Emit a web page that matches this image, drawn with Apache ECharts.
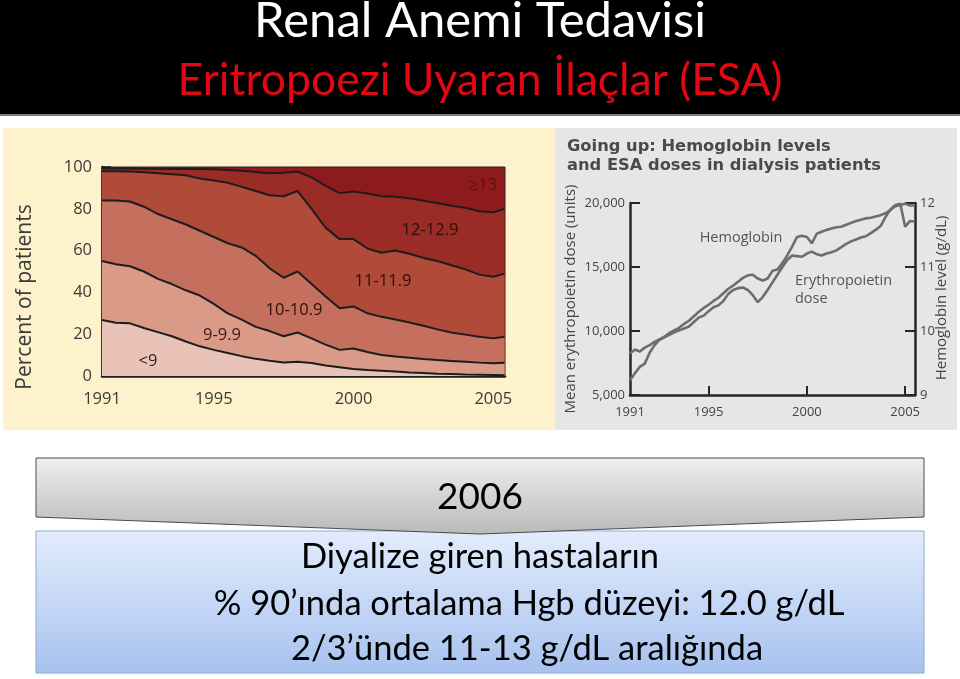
<!DOCTYPE html>
<html>
<head>
<meta charset="utf-8">
<script src="https://cdn.jsdelivr.net/npm/echarts@6/dist/echarts.min.js"></script>
<style>html,body{margin:0;padding:0;background:#fff}#c{width:960px;height:679px}</style>
</head>
<body>
<div id="c"></div>
<script>
// ---------- Texts ----------
const headerTitle = 'Renal Anemi Tedavisi';
const headerSubtitle = 'Eritropoezi Uyaran İlaçlar (ESA)';
const boxYear = '2006';
const boxLines = ['Diyalize giren hastaların', '% 90’ında ortalama Hgb düzeyi: 12.0 g/dL', '2/3’ünde 11-13 g/dL aralığında'];

// ---------- Left chart: percent of patients by Hb band (cumulative upper edges) ----------
const bandYears = [1991,1991.5,1992,1992.5,1993,1993.5,1994,1994.5,1995,1995.5,1996,1996.5,1997,1997.5,1998,1998.5,1999,1999.5,2000,2000.5,2001,2001.5,2002,2002.5,2003,2003.5,2004,2004.5,2005,2005.4];
const edge12 = [99.3,99.3,99.3,99.2,99.2,99.1,99.1,99,98.9,98.6,98.2,97.6,97,97.3,97.8,95,91,87.5,88.3,87.3,86,85.8,85,83.8,82.8,81.5,80.5,78.8,78.3,80];
const edge11 = [98,98,97.8,97.5,97,96.5,96,94.5,93.5,92.5,90.5,88.5,86.5,86,88.5,80,71,65.5,65.5,61,59,60,58.5,56.5,55,53,51,48.5,47.5,49];
const edge10 = [84,84,83.5,81,77.5,75,72.5,69.5,66.5,63.5,61.5,57.5,51.5,47,50,44,38,32.4,33.3,30,28.3,27,25.6,24,22.3,20.8,19.8,18.8,18,18.8];
const edge9 = [55,53.5,52.5,50,46.5,44,41,38.5,34.5,30,27,23.5,21.5,19,20.8,18,15,12.5,13.2,11.5,10,9.3,8.7,8.1,7.6,7.2,6.8,6.4,6.1,6.3];
const edgeLt9 = [26.8,25.5,25.2,23,21,19,16.5,14.2,12.5,11,9.5,8.2,7.3,6.5,6.8,6.2,5,4.2,3.4,2.9,2.5,2.1,1.7,1.4,1.1,0.9,0.7,0.6,0.5,0.4];
const bandNames = ['≥13', '12-12.9', '11-11.9', '10-10.9', '9-9.9', '<9'];
const pctTicks = [0, 20, 40, 60, 80, 100];
const yearLabels = [1991, 1995, 2000, 2005];
const yearTickMarks = [1995, 2000, 2005];

// ---------- Right chart: Hb level and ESA dose ----------
const trendYears = [1991,1991.25,1991.5,1991.75,1992,1992.25,1992.5,1992.75,1993,1993.25,1993.5,1993.75,1994,1994.25,1994.5,1994.75,1995,1995.25,1995.5,1995.75,1996,1996.25,1996.5,1996.75,1997,1997.25,1997.5,1997.75,1998,1998.25,1998.5,1998.75,1999,1999.25,1999.5,1999.75,2000,2000.25,2000.5,2000.75,2001,2001.25,2001.5,2001.75,2002,2002.25,2002.5,2002.75,2003,2003.25,2003.5,2003.75,2004,2004.25,2004.5,2004.75,2005,2005.25,2005.5];
const hbLevel = [9.65,9.71,9.68,9.74,9.78,9.83,9.87,9.91,9.97,10.01,10.05,10.11,10.16,10.23,10.30,10.36,10.41,10.47,10.52,10.59,10.66,10.71,10.77,10.83,10.87,10.88,10.82,10.79,10.82,10.94,10.96,11.06,11.18,11.32,11.47,11.49,11.47,11.37,11.52,11.55,11.58,11.60,11.62,11.63,11.66,11.69,11.72,11.74,11.76,11.77,11.79,11.81,11.84,11.89,11.95,11.97,11.99,11.96,11.96];
const epoDose = [6150,6700,7200,7450,8300,8900,9300,9500,9700,9900,10050,10200,10350,10700,11050,11200,11550,11850,12000,12350,12900,13200,13350,13400,13200,12800,12250,12650,13200,13800,14400,15000,15550,15900,15850,15800,16050,16200,16000,15900,16050,16150,16300,16550,16800,17000,17150,17300,17400,17650,17900,18200,18900,19500,19850,19950,18150,18600,18550];
const doseTicks = [5000, 10000, 15000, 20000];
const hbTicks = [9, 10, 11, 12];

// ---------- Build ----------
const zip = (xs, ys) => xs.map((x, i) => [x, ys[i]]);
const bandColors = ['#8d1b1e', '#9a2b25', '#b04a39', '#c5705e', '#d99a88', '#e9c3b7'];
const edges = [edge12, edge11, edge10, edge9, edgeLt9];

const CAL = 'Lato, "Open Sans", sans-serif';
const FRU = '"Open Sans", "Noto Sans", sans-serif';

function txt(text, x, y, size, color, opts) {
  opts = opts || {};
  return {
    type: 'text', x: x, y: y, z: 100, rotation: opts.rotation || 0,
    style: {
      text: text, fill: color, fontSize: size, fontFamily: opts.family || FRU,
      fontWeight: opts.weight || 'normal',
      align: opts.align || 'center', verticalAlign: 'middle',
      textAlign: opts.align || 'center', textVerticalAlign: 'middle'
    }
  };
}

const graphics = [
  { type: 'rect', z: -10, shape: { x: 0, y: 0, width: 960, height: 114 }, style: { fill: '#000' } },
  { type: 'rect', z: -10, shape: { x: 0, y: 114, width: 960, height: 2 }, style: { fill: '#7c7c7c' } },
  { type: 'rect', z: -10, shape: { x: 3, y: 128, width: 552, height: 302 }, style: { fill: '#fdf2cb' } },
  { type: 'rect', z: -10, shape: { x: 555, y: 128, width: 402, height: 302 }, style: { fill: '#e6e6e8' } },
  txt(headerTitle, 480, 21, 49, '#ffffff', { family: CAL }),
  txt(headerSubtitle, 480, 81, 44.5, '#e30613', { family: CAL }),
  // left chart annotations
  txt('Percent of patients', 25, 297, 21, '#3b3b3b', { rotation: Math.PI / 2 }),
  txt(bandNames[0], 483, 185, 16.5, '#5e1212'),
  txt(bandNames[1], 430, 230, 16.5, '#2e0f0b'),
  txt(bandNames[2], 383, 281, 16.5, '#2e0f0b'),
  txt(bandNames[3], 294, 310, 16.5, '#2e0f0b'),
  txt(bandNames[4], 222, 335, 16.5, '#3a1a14'),
  txt(bandNames[5], 148, 361, 16.5, '#3a1a14'),
  // right chart annotations
  txt('Going up: Hemoglobin levels', 567, 147, 16.3, '#4a4a4a', { align: 'left', weight: 'bold', family: '"DejaVu Sans", sans-serif' }),
  txt('and ESA doses in dialysis patients', 567, 166, 16.3, '#4a4a4a', { align: 'left', weight: 'bold', family: '"DejaVu Sans", sans-serif' }),
  txt('Mean erythropoietin dose (units)', 571, 299, 15, '#444', { rotation: Math.PI / 2 }),
  txt('Hemoglobin level (g/dL)', 942, 298, 15, '#444', { rotation: Math.PI / 2 }),
  txt('Hemoglobin', 741, 238, 14.5, '#555'),
  txt('Erythropoietin', 795, 281, 14.5, '#555', { align: 'left' }),
  txt('dose', 795, 299, 14.5, '#555', { align: 'left' }),
  // bottom callout
  { type: 'rect', z: 50, shape: { x: 36, y: 531, width: 888, height: 142 },
    style: { fill: { type: 'linear', x: 0, y: 0, x2: 0, y2: 1, colorStops: [{ offset: 0, color: '#e2ecfc' }, { offset: 1, color: '#a7c2ef' }] }, stroke: '#8eaad8', lineWidth: 1 } },
  { type: 'polygon', z: 51, shape: { points: [[36, 458], [924, 458], [924, 517], [480, 534], [36, 517]] },
    style: { fill: { type: 'linear', x: 0, y: 0, x2: 0, y2: 1, colorStops: [{ offset: 0, color: '#efefef' }, { offset: 1, color: '#b9b9b9' }] }, stroke: '#4a4a4a', lineWidth: 1 } },
  txt(boxYear, 480, 497, 37, '#000', { family: CAL }),
  txt(boxLines[0], 480, 557, 34.5, '#000', { family: CAL }),
  txt(boxLines[1], 529, 604, 34.5, '#000', { family: CAL }),
  txt(boxLines[2], 527, 649, 34.5, '#000', { family: CAL })
];

const bandSeries = edges.map((edge, i) => ({
  type: 'line', xAxisIndex: 0, yAxisIndex: 0, data: zip(bandYears, edge),
  showSymbol: false, symbol: 'none', silent: true,
  lineStyle: { color: '#1d1d1d', width: 2 },
  areaStyle: { color: bandColors[i + 1], opacity: 1, origin: 'start' },
  z: 2 + i
}));

const yearFmt = v => String(v);

const option = {
  animation: false,
  backgroundColor: '#ffffff',
  graphic: { elements: graphics },
  grid: [
    { left: 102, top: 167, width: 403, height: 209, show: true, backgroundColor: bandColors[0], borderColor: '#262626', borderWidth: 1 },
    { left: 630, top: 203, width: 285, height: 192, show: false }
  ],
  xAxis: [
    { gridIndex: 0, type: 'value', min: 1991, max: 2005.42,
      axisLine: { show: true, onZero: false, lineStyle: { color: '#1c1c1c', width: 2.5 } },
      axisTick: { show: true, inside: true, length: 9, customValues: yearTickMarks, lineStyle: { color: '#1c1c1c', width: 1.5 } },
      axisLabel: { customValues: yearLabels, formatter: yearFmt, fontSize: 16.5, color: '#3a3a3a', margin: 15, fontFamily: FRU },
      splitLine: { show: false } },
    { gridIndex: 1, type: 'value', min: 1991, max: 2005.5,
      axisLine: { show: true, onZero: false, lineStyle: { color: '#262626', width: 2.5 } },
      axisTick: { show: true, inside: true, length: 9, customValues: yearTickMarks, lineStyle: { color: '#262626', width: 2 } },
      axisLabel: { customValues: yearLabels, formatter: yearFmt, fontSize: 13, color: '#444', margin: 11, fontFamily: FRU },
      splitLine: { show: false } }
  ],
  yAxis: [
    { gridIndex: 0, type: 'value', min: pctTicks[0], max: pctTicks[pctTicks.length - 1], interval: 20,
      axisLine: { show: true, lineStyle: { color: '#1c1c1c', width: 2.5 } },
      axisTick: { show: true, inside: true, length: 9, lineStyle: { color: '#1c1c1c', width: 1.5 } },
      axisLabel: { fontSize: 16.5, color: '#3a3a3a', margin: 10, fontFamily: FRU },
      splitLine: { show: false } },
    { gridIndex: 1, type: 'value', position: 'left', min: doseTicks[0], max: doseTicks[doseTicks.length - 1], interval: 5000,
      axisLine: { show: true, lineStyle: { color: '#262626', width: 2.5 } },
      axisTick: { show: true, inside: true, length: 10, lineStyle: { color: '#262626', width: 2 } },
      axisLabel: { fontSize: 13, color: '#444', margin: 5, fontFamily: FRU, formatter: v => v.toLocaleString('en-US') },
      splitLine: { show: false } },
    { gridIndex: 1, type: 'value', position: 'right', min: hbTicks[0], max: hbTicks[hbTicks.length - 1], interval: 1,
      axisLine: { show: true, lineStyle: { color: '#262626', width: 2.5 } },
      axisTick: { show: true, inside: true, length: 10, lineStyle: { color: '#262626', width: 2 } },
      axisLabel: { fontSize: 13, color: '#444', margin: 5, fontFamily: FRU },
      splitLine: { show: false } }
  ],
  series: bandSeries.concat([
    { type: 'line', name: 'Hemoglobin', xAxisIndex: 1, yAxisIndex: 2, data: zip(trendYears, hbLevel),
      showSymbol: false, symbol: 'none', lineStyle: { color: '#6d6d6d', width: 2.6 }, z: 10 },
    { type: 'line', name: 'Erythropoietin dose', xAxisIndex: 1, yAxisIndex: 1, data: zip(trendYears, epoDose),
      showSymbol: false, symbol: 'none', lineStyle: { color: '#6d6d6d', width: 2.6 }, z: 10 }
  ])
};

const chart = echarts.init(document.getElementById('c'), null, { renderer: 'canvas', width: 960, height: 679 });
chart.setOption(option);
</script>
</body>
</html>
